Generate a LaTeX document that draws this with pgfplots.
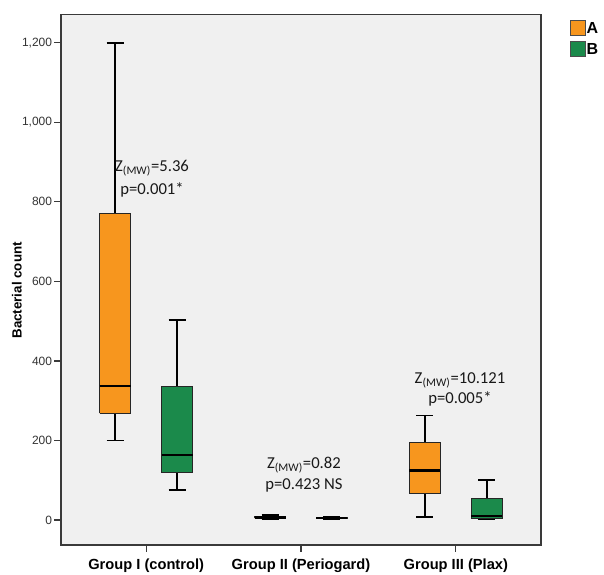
\documentclass[border=0pt]{standalone}
\usepackage{pgfplots}
\pgfplotsset{compat=1.18}
\usepackage{fontspec}
\setmainfont{Liberation Sans}
\newfontfamily\calibri{Carlito}
\definecolor{orangeA}{HTML}{F7961E}
\definecolor{greenB}{HTML}{1B8A4B}
\definecolor{bgc}{HTML}{F0F0F0}
\definecolor{framec}{HTML}{3A3A3A}
\begin{document}
\begin{tikzpicture}
\useasboundingbox (-45.75pt,-22.5pt) rectangle (407.25pt,408.75pt);
\begin{axis}[
  at={(0pt,0pt)}, anchor=south west,
  scale only axis, width=360pt, height=397.8pt,
  xmin=-0.55, xmax=2.55, ymin=-63, ymax=1271,
  axis background/.style={fill=bgc},
  axis line style={framec, line width=0.8pt},
  tick pos=left, tick align=outside,
  major tick length=5pt,
  xtick={0,1,2},
  xticklabels={Group I (control),Group II (Periogard),Group III (Plax)},
  tick style={framec, line width=0.9pt},
  ytick={0,200,400,600,800,1000,1200},
  scaled y ticks=false,
  unbounded coords=jump,
  /pgf/number format/assume math mode=true,
  /pgf/number format/1000 sep={,},
  yticklabel style={font=\fontsize{9}{10}\selectfont, text=black!80, inner sep=1.5pt},
  xticklabel style={font=\bfseries\fontsize{11}{13}\selectfont, inner sep=2pt, yshift=-3pt},
  ylabel={Bacterial count},
  every axis y label/.style={at={(axis description cs:-0.092,0.48)},rotate=90,anchor=center,font=\bfseries\fontsize{10}{12}\selectfont},
]
% ---- Group I (control), A: whiskers 200-1200, box 268-770, median 337
\addplot[black, line width=1.1pt, mark=none] coordinates {(-0.2,200) (-0.2,268) (nan,nan) (-0.2,770) (-0.2,1200) (nan,nan) (-0.255,200) (-0.145,200) (nan,nan) (-0.255,1200) (-0.145,1200)};
\addplot[fill=orangeA, draw=black!85, line width=0.8pt, mark=none] coordinates {(-0.3,268) (-0.1,268) (-0.1,770) (-0.3,770) (-0.3,268)};
\addplot[black, line width=1.8pt, mark=none] coordinates {(-0.3,337) (-0.1,337)};
% Group I, B: whiskers 75-503, box 119-335, median 164
\addplot[black, line width=1.1pt, mark=none] coordinates {(0.2,75) (0.2,119) (nan,nan) (0.2,335) (0.2,503) (nan,nan) (0.145,75) (0.255,75) (nan,nan) (0.145,503) (0.255,503)};
\addplot[fill=greenB, draw=black!85, line width=0.8pt, mark=none] coordinates {(0.1,119) (0.3,119) (0.3,335) (0.1,335) (0.1,119)};
\addplot[black, line width=1.8pt, mark=none] coordinates {(0.1,164) (0.3,164)};
% ---- Group II (Periogard), A: 1, 4, 6, 9, 12
\addplot[black, line width=1.1pt, mark=none] coordinates {(0.8,1) (0.8,4) (nan,nan) (0.8,9) (0.8,12) (nan,nan) (0.745,1) (0.855,1) (nan,nan) (0.745,12) (0.855,12)};
\addplot[fill=orangeA, draw=black!85, line width=0.8pt, mark=none] coordinates {(0.7,4) (0.9,4) (0.9,9) (0.7,9) (0.7,4)};
\addplot[black, line width=1.8pt, mark=none] coordinates {(0.7,6) (0.9,6)};
% Group II, B: 1, 3, 5, 7, 9
\addplot[black, line width=1.1pt, mark=none] coordinates {(1.2,1) (1.2,3) (nan,nan) (1.2,7) (1.2,9) (nan,nan) (1.145,1) (1.255,1) (nan,nan) (1.145,9) (1.255,9)};
\addplot[fill=greenB, draw=black!85, line width=0.8pt, mark=none] coordinates {(1.1,3) (1.3,3) (1.3,7) (1.1,7) (1.1,3)};
\addplot[black, line width=1.8pt, mark=none] coordinates {(1.1,5) (1.3,5)};
% ---- Group III (Plax), A: 7, 66, 124, 194, 263
\addplot[black, line width=1.1pt, mark=none] coordinates {(1.8,7) (1.8,66) (nan,nan) (1.8,194) (1.8,263) (nan,nan) (1.745,7) (1.855,7) (nan,nan) (1.745,263) (1.855,263)};
\addplot[fill=orangeA, draw=black!85, line width=0.8pt, mark=none] coordinates {(1.7,66) (1.9,66) (1.9,194) (1.7,194) (1.7,66)};
\addplot[black, line width=1.8pt, mark=none] coordinates {(1.7,124) (1.9,124)};
% Group III, B: 2, 4, 10, 54, 100
\addplot[black, line width=1.1pt, mark=none] coordinates {(2.2,2) (2.2,4) (nan,nan) (2.2,54) (2.2,100) (nan,nan) (2.145,2) (2.255,2) (nan,nan) (2.145,100) (2.255,100)};
\addplot[fill=greenB, draw=black!85, line width=0.8pt, mark=none] coordinates {(2.1,4) (2.3,4) (2.3,54) (2.1,54) (2.1,4)};
\addplot[black, line width=1.8pt, mark=none] coordinates {(2.1,10) (2.3,10)};
% annotations
\node[font=\calibri\fontsize{12.5}{14}\selectfont, text=black!90, inner sep=0pt] at (axis cs:0.038,885) {Z\textsubscript{(MW)}=5.36};
\node[font=\calibri\fontsize{12.5}{14}\selectfont, text=black!90, inner sep=0pt] at (axis cs:0.038,830) {p=0.001*};
\node[font=\calibri\fontsize{12.5}{14}\selectfont, text=black!90, inner sep=0pt] at (axis cs:1.019,138) {Z\textsubscript{(MW)}=0.82};
\node[font=\calibri\fontsize{12.5}{14}\selectfont, text=black!90, inner sep=0pt] at (axis cs:1.019,88) {p=0.423 NS};
\node[font=\calibri\fontsize{12.5}{14}\selectfont, text=black!90, inner sep=0pt] at (axis cs:2.027,352) {Z\textsubscript{(MW)}=10.121};
\node[font=\calibri\fontsize{12.5}{14}\selectfont, text=black!90, inner sep=0pt] at (axis cs:2.027,304) {p=0.005*};
\end{axis}
% legend
\draw[black!70, line width=0.5pt, fill=orangeA] (382pt,382.5pt) rectangle (393pt,393.5pt);
\draw[black!70, line width=0.5pt, fill=greenB] (382pt,366.75pt) rectangle (393pt,377.75pt);
\node[anchor=west, inner sep=0pt, font=\bfseries\fontsize{12}{14}\selectfont] at (394pt,388pt) {A};
\node[anchor=west, inner sep=0pt, font=\bfseries\fontsize{12}{14}\selectfont] at (394pt,372.25pt) {B};
\end{tikzpicture}
\end{document}
